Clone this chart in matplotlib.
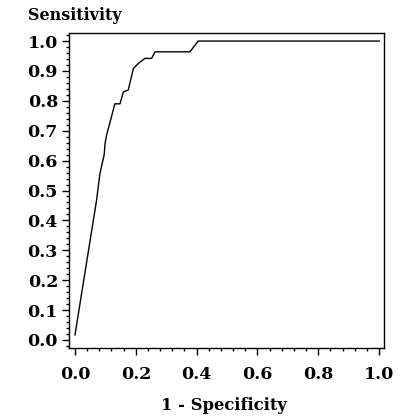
import matplotlib
matplotlib.use("Agg")
import matplotlib.pyplot as plt
from matplotlib.ticker import MultipleLocator

# ROC curve points
fpr = [0.0, 0.071, 0.082, 0.096, 0.099, 0.104, 0.126, 0.131, 0.148, 0.159,
       0.175, 0.192, 0.208, 0.230, 0.252, 0.263, 0.378, 0.405, 1.0]
tpr = [0.017, 0.468, 0.557, 0.620, 0.658, 0.686, 0.770, 0.790, 0.790, 0.830,
       0.836, 0.908, 0.925, 0.942, 0.942, 0.964, 0.964, 1.0, 1.0]

x_ticks = [0.0, 0.2, 0.4, 0.6, 0.8, 1.0]
y_ticks = [0.0, 0.1, 0.2, 0.3, 0.4, 0.5, 0.6, 0.7, 0.8, 0.9, 1.0]

plt.rcParams['font.family'] = ['DejaVu Serif']
plt.rcParams['font.weight'] = 'bold'

fig = plt.figure(figsize=(4.0, 4.18), dpi=100)
ax = fig.add_axes([0.1725, 0.1675, 0.7875, 0.7536])

ax.plot(fpr, tpr, color='black', lw=1.0)

ax.set_xlim(-0.0197, 1.016)
ax.set_ylim(-0.0268, 1.027)
ax.set_xticks(x_ticks)
ax.set_yticks(y_ticks)
ax.set_xticklabels([f"{v:.1f}" for v in x_ticks])
ax.set_yticklabels([f"{v:.1f}" for v in y_ticks])
ax.xaxis.set_minor_locator(MultipleLocator(0.04))
ax.yaxis.set_minor_locator(MultipleLocator(0.02))

ax.tick_params(which='major', direction='out', length=5, width=1, labelsize=12.5, colors='black')
ax.tick_params(axis='x', which='major', pad=8)
ax.tick_params(axis='y', which='major', pad=3)
ax.tick_params(which='minor', direction='out', length=2.5, width=1)
for lab in ax.get_xticklabels() + ax.get_yticklabels():
    lab.set_fontweight('bold')

for s in ax.spines.values():
    s.set_linewidth(1.0)
    s.set_color('black')

fig.text(0.07, 0.962, 'Sensitivity', fontsize=11.5, fontweight='bold', va='center', ha='left')
fig.text(0.56, 0.031, '1 - Specificity', fontsize=11.8, fontweight='bold', va='center', ha='center')

fig.savefig('out.png', dpi=100, facecolor='white')
